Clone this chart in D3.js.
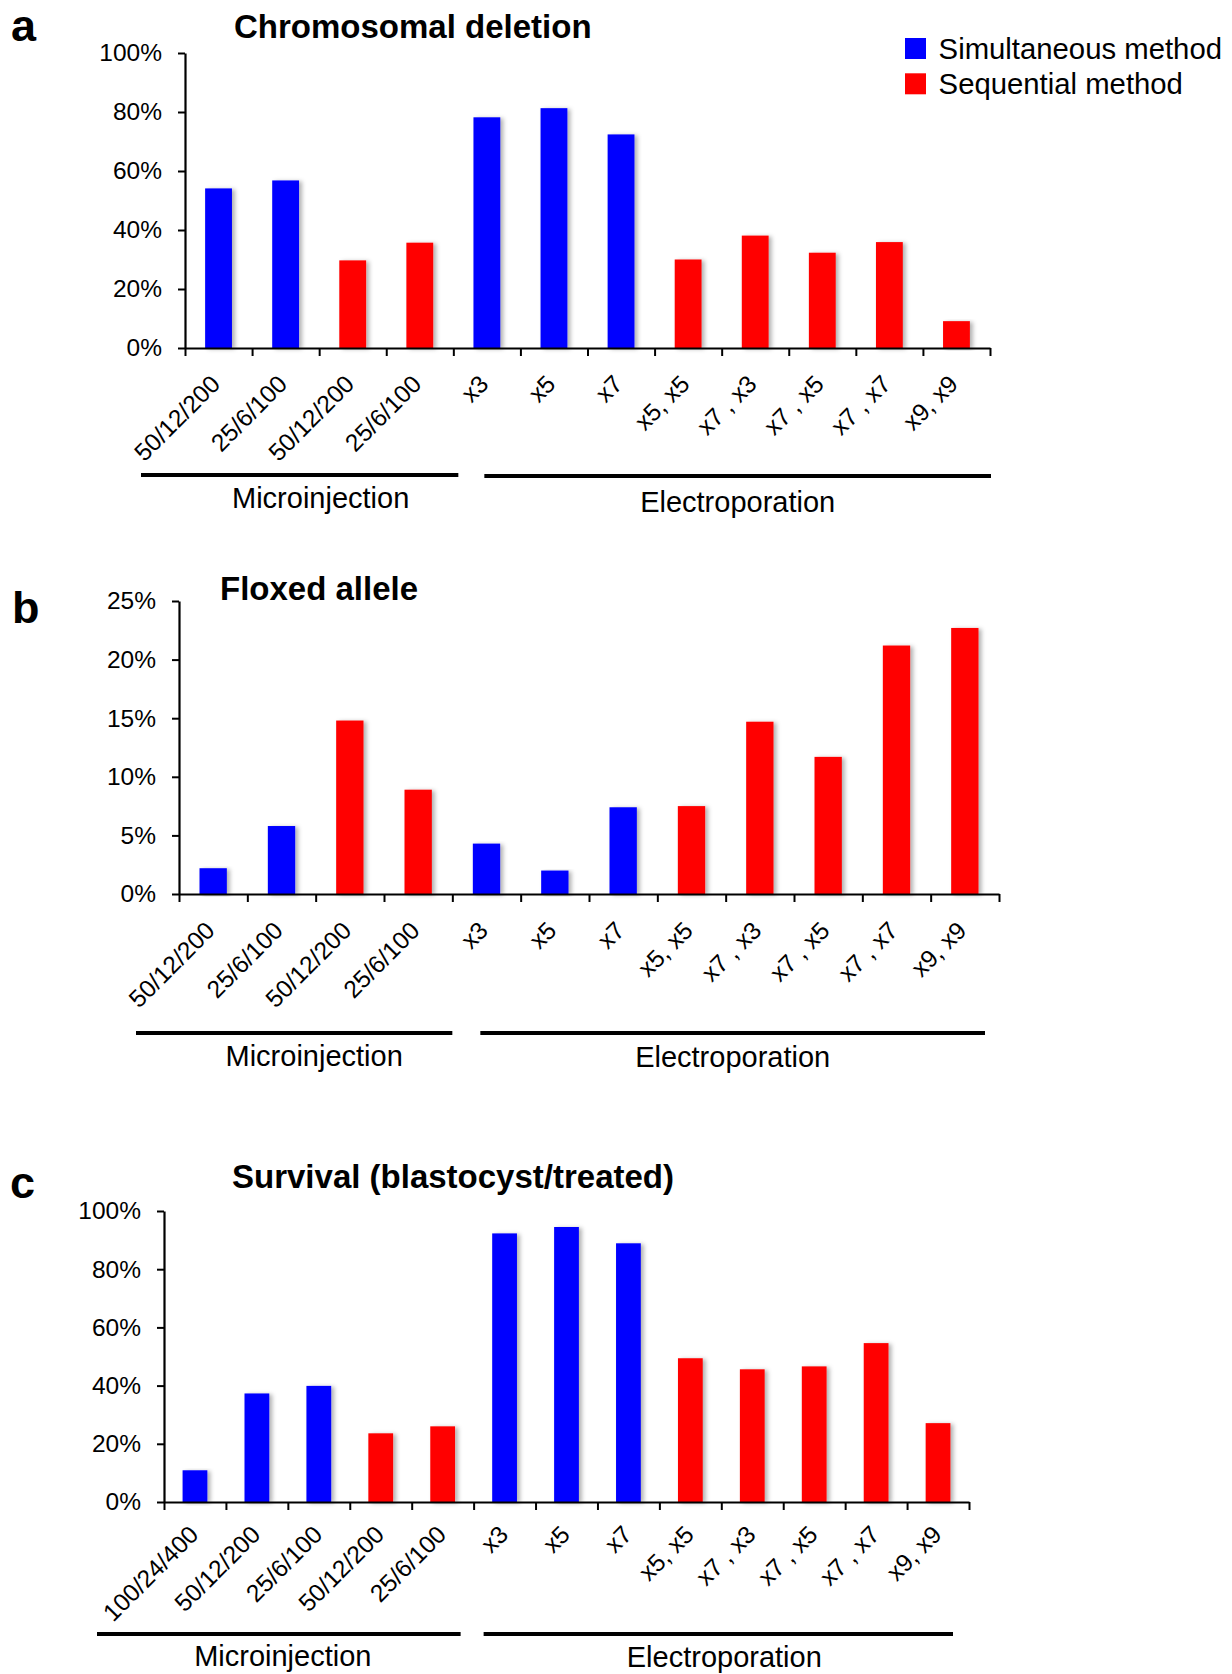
<!DOCTYPE html>
<html>
<head>
<meta charset="utf-8">
<script src="https://cdn.jsdelivr.net/npm/d3@7"></script>
<style>
  body { margin: 0; background: #fff; }
  svg { display: block; font-family: "Liberation Sans", Arial, Helvetica, sans-serif; }
</style>
</head>
<body>
<svg id="chart" width="1232" height="1674"></svg>
<script>
// ---- data ----
const labelsAB = ['50/12/200', '25/6/100', '50/12/200', '25/6/100', 'x3', 'x5', 'x7',
                  'x5, x5', 'x7 , x3', 'x7 , x5', 'x7 , x7', 'x9, x9'];
const labelsC = ['100/24/400', '50/12/200', '25/6/100', '50/12/200', '25/6/100', 'x3', 'x5', 'x7',
                 'x5, x5', 'x7 , x3', 'x7 , x5', 'x7 , x7', 'x9, x9'];
const methodsAB = ['sim', 'sim', 'seq', 'seq', 'sim', 'sim', 'sim', 'seq', 'seq', 'seq', 'seq', 'seq'];
const methodsC = ['sim', 'sim', 'sim', 'seq', 'seq', 'sim', 'sim', 'sim', 'seq', 'seq', 'seq', 'seq', 'seq'];

const deletionValues = [54.1, 56.8, 29.7, 35.7, 78.2, 81.3, 72.4, 30.0, 38.1, 32.3, 35.9, 9.1];
const floxedValues = [2.2, 5.8, 14.8, 8.9, 4.3, 2.0, 7.4, 7.5, 14.7, 11.7, 21.2, 22.7];
const survivalValues = [10.9, 37.3, 39.9, 23.6, 26.0, 92.3, 94.5, 88.9, 49.4, 45.6, 46.6, 54.6, 27.1];

const ticks100 = [0, 20, 40, 60, 80, 100];
const ticks25 = [0, 5, 10, 15, 20, 25];

const methodKeys = ['sim', 'seq'];
const methodNames = ['Simultaneous method', 'Sequential method'];

const color = d3.scaleOrdinal().domain(methodKeys).range(['#0000ff', '#ff0000']);

// ---- layout of the three panels ----
const panels = [
  {
    letter: 'a', title: 'Chromosomal deletion',
    labels: labelsAB, methods: methodsAB, values: deletionValues, ticks: ticks100,
    left: 185, right: 990, bottom: 348, top: 53,
    letterPos: [11, 41], titlePos: [234, 38],
    labelShift: [3, 37.5],
    groups: [
      { name: 'Microinjection', from: 0, to: 4, pad: [-44, 5], shift: 21, lineY: 475, textY: 508 },
      { name: 'Electroporation', from: 4, to: 12, pad: [31, 1], shift: 0, lineY: 476, textY: 512 }
    ]
  },
  {
    letter: 'b', title: 'Floxed allele',
    labels: labelsAB, methods: methodsAB, values: floxedValues, ticks: ticks25,
    left: 179, right: 999, bottom: 894, top: 601,
    letterPos: [12, 623], titlePos: [220, 600],
    labelShift: [3, 38],
    groups: [
      { name: 'Microinjection', from: 0, to: 4, pad: [-43, 0], shift: 20, lineY: 1033, textY: 1066 },
      { name: 'Electroporation', from: 4, to: 12, pad: [28, -14], shift: 0, lineY: 1033, textY: 1067 }
    ]
  },
  {
    letter: 'c', title: 'Survival (blastocyst/treated)',
    labels: labelsC, methods: methodsC, values: survivalValues, ticks: ticks100,
    left: 164, right: 969, bottom: 1502, top: 1211,
    letterPos: [10, 1198], titlePos: [232, 1188],
    labelShift: [5, 34],
    groups: [
      { name: 'Microinjection', from: 0, to: 5, pad: [-67, -13], shift: 4, lineY: 1634, textY: 1666 },
      { name: 'Electroporation', from: 5, to: 13, pad: [10, -16], shift: 6, lineY: 1634, textY: 1667 }
    ]
  }
];

const svg = d3.select('#chart');

// soft grey shadow behind bars
const shadow = svg.append('defs').append('filter')
  .attr('id', 'shadow')
  .attr('x', '-20%').attr('y', '-5%').attr('width', '160%').attr('height', '115%');
shadow.append('feDropShadow')
  .attr('dx', 3).attr('dy', 1).attr('stdDeviation', 2)
  .attr('flood-color', '#000').attr('flood-opacity', 0.3);

panels.forEach(p => {
  const n = p.labels.length;
  const g = svg.append('g');

  const x = d3.scaleBand()
    .domain(d3.range(n))
    .range([p.left, p.right])
    .paddingInner(0.6)
    .paddingOuter(0.3);
  const edge = d3.scaleLinear().domain([0, n]).range([p.left, p.right]);
  const y = d3.scaleLinear()
    .domain([0, d3.max(p.ticks)])
    .range([p.bottom, p.top]);

  // bars
  g.append('g').selectAll('rect')
    .data(p.values)
    .join('rect')
    .attr('x', (d, i) => x(i))
    .attr('y', d => y(d))
    .attr('width', x.bandwidth())
    .attr('height', d => y(0) - y(d))
    .attr('fill', (d, i) => color(p.methods[i]))
    .attr('filter', 'url(#shadow)');

  // y axis
  const yAxis = g.append('g')
    .attr('transform', `translate(${p.left},0)`)
    .call(d3.axisLeft(y)
      .tickValues(p.ticks)
      .tickFormat(d => d + '%')
      .tickSize(7)
      .tickSizeOuter(0)
      .tickPadding(16));

  // x axis with ticks on category boundaries
  const xAxis = g.append('g')
    .attr('transform', `translate(0,${p.bottom})`)
    .call(d3.axisBottom(edge)
      .tickValues(d3.range(n + 1))
      .tickFormat('')
      .tickSize(8)
      .tickSizeOuter(0));

  [yAxis, xAxis].forEach(a => {
    a.select('.domain').attr('stroke', '#000').attr('stroke-width', 2.2);
    a.selectAll('.tick line').attr('stroke', '#000').attr('stroke-width', 2);
  });
  yAxis.selectAll('.tick text')
    .attr('font-size', 24.5)
    .attr('fill', '#000')
    .attr('font-family', 'inherit');

  // rotated category labels
  g.append('g').selectAll('text')
    .data(p.labels)
    .join('text')
    .attr('transform', (d, i) =>
      `translate(${x(i) + x.bandwidth() / 2 + p.labelShift[0]},${p.bottom + p.labelShift[1]}) rotate(-45)`)
    .attr('text-anchor', 'end')
    .attr('font-size', 24.5)
    .attr('fill', '#000')
    .text(d => d);

  // group brackets
  p.groups.forEach(gr => {
    const x1 = edge(gr.from) + gr.pad[0];
    const x2 = edge(gr.to) + gr.pad[1];
    g.append('line')
      .attr('x1', x1).attr('x2', x2)
      .attr('y1', gr.lineY).attr('y2', gr.lineY)
      .attr('stroke', '#000')
      .attr('stroke-width', 4);
    g.append('text')
      .attr('x', (x1 + x2) / 2 + gr.shift)
      .attr('y', gr.textY)
      .attr('text-anchor', 'middle')
      .attr('font-size', 29)
      .attr('fill', '#000')
      .text(gr.name);
  });

  // panel letter and title
  g.append('text')
    .attr('x', p.letterPos[0]).attr('y', p.letterPos[1])
    .attr('font-size', 45).attr('font-weight', 'bold')
    .text(p.letter);
  g.append('text')
    .attr('x', p.titlePos[0]).attr('y', p.titlePos[1])
    .attr('font-size', 33).attr('font-weight', 'bold')
    .text(p.title);
});

// legend
const legend = svg.append('g').attr('transform', 'translate(905,38)');
const items = legend.selectAll('g')
  .data(methodKeys)
  .join('g')
  .attr('transform', (d, i) => `translate(0,${i * 35.3})`);
items.append('rect')
  .attr('width', 21).attr('height', 21)
  .attr('fill', d => color(d));
items.append('text')
  .attr('x', 33.6).attr('y', 21)
  .attr('font-size', 29.3)
  .attr('fill', '#000')
  .text((d, i) => methodNames[i]);
</script>
</body>
</html>
